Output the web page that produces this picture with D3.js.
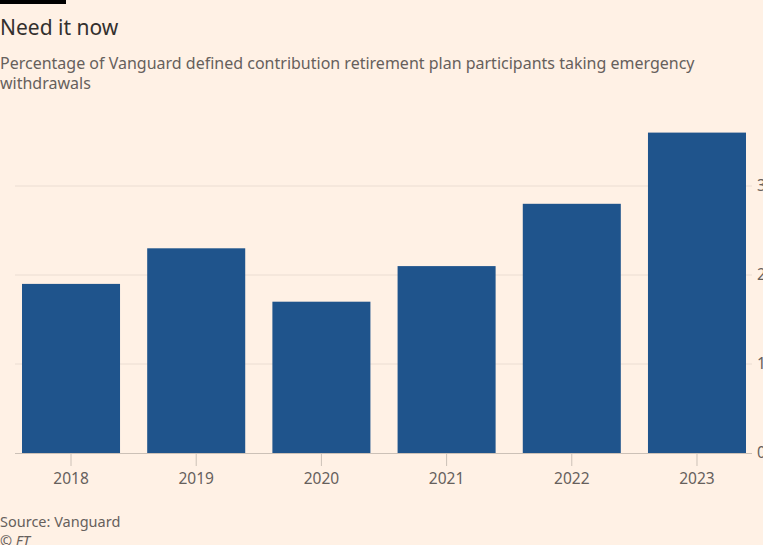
<!DOCTYPE html>
<html><head><meta charset="utf-8">
<script src="https://cdn.jsdelivr.net/npm/d3@7"></script>
<style>
html,body{margin:0;padding:0;background:#fff1e5;}
svg{display:block;}
</style></head>
<body>
<svg id="chart" width="763" height="545"></svg>
<script>
const years = ["2018","2019","2020","2021","2022","2023"];
const values = [1.9, 2.3, 1.7, 2.1, 2.8, 3.6];
const yTicks = [0, 1, 2, 3];
const title = "Need it now";
const subtitle = ["Percentage of Vanguard defined contribution retirement plan participants taking emergency", "withdrawals"];
const source = "Source: Vanguard";
const credit = "© FT";

const svg = d3.select("#chart");
const font = "'Noto Sans', sans-serif";
svg.append("rect").attr("width",763).attr("height",545).attr("fill","#fff1e5");
svg.append("rect").attr("x",0).attr("y",0).attr("width",66).attr("height",4).attr("fill","#000");
svg.append("text").attr("x",0).attr("y",35).attr("font-family",font).attr("font-size",21)
  .attr("fill","#33302e").text(title);
subtitle.forEach((t,i)=>svg.append("text").attr("x",0).attr("y",69+i*20).attr("font-family",font)
  .attr("font-size",16).attr("fill","#66605c").text(t));

const x = d3.scaleBand().domain(years).range([22,746]).paddingInner(0.217).paddingOuter(0);
const y = d3.scaleLinear().domain([0,3]).range([453,186]);

const grid = svg.append("g");
grid.selectAll("line").data(yTicks.filter(d=>d>0)).join("line")
  .attr("x1",15).attr("x2",752).attr("y1",d=>y(d)).attr("y2",d=>y(d))
  .attr("stroke","#ebddd2").attr("stroke-width",1);

svg.append("g").selectAll("rect").data(years).join("rect")
  .attr("x",d=>x(d)).attr("width",x.bandwidth())
  .attr("y",(d,i)=>y(values[i])).attr("height",(d,i)=>y(0)-y(values[i]))
  .attr("fill","#1f548c");

// baseline
svg.append("line").attr("x1",15).attr("x2",752).attr("y1",y(0)+0.5).attr("y2",y(0)+0.5)
  .attr("stroke","#ccc1b7").attr("stroke-width",1);

const xAxis = svg.append("g").attr("transform",`translate(0,${y(0)})`)
  .call(d3.axisBottom(x).tickSize(13).tickPadding(7).tickSizeOuter(0));
xAxis.select(".domain").remove();
xAxis.selectAll(".tick line").attr("stroke","#ccc1b7");
xAxis.selectAll(".tick text").attr("font-family",font).attr("font-size",15.5).attr("fill","#66605c");

const yAxis = svg.append("g").attr("transform",`translate(752,0)`)
  .call(d3.axisRight(y).tickValues(yTicks).tickSize(0).tickPadding(5).tickFormat(d3.format("d")));
yAxis.select(".domain").remove();
yAxis.selectAll(".tick text").attr("font-family",font).attr("font-size",15.5).attr("fill","#66605c");

svg.append("text").attr("x",0).attr("y",527).attr("font-family",font).attr("font-size",14.5)
  .attr("fill","#66605c").text(source);
svg.append("text").attr("x",0).attr("y",546).attr("font-family",font).attr("font-size",14.5)
  .attr("font-style","italic").attr("fill","#66605c").text(credit);
</script>
</body></html>
